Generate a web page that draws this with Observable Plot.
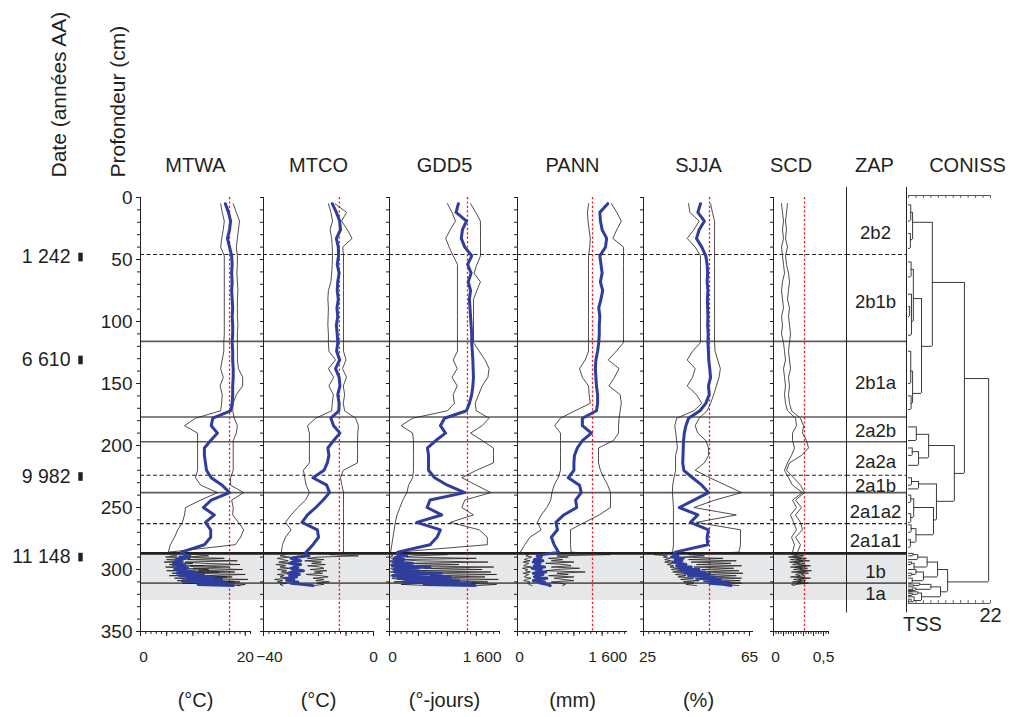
<!DOCTYPE html>
<html lang="fr"><head><meta charset="utf-8">
<script src="https://cdn.jsdelivr.net/npm/d3@7"></script>
<script src="https://cdn.jsdelivr.net/npm/@observablehq/plot@0.6"></script>
<style>
html,body{margin:0;padding:0;background:#fff;}
#chart{position:relative;width:1015px;height:717px;overflow:hidden;font-family:"Liberation Sans",Arial,sans-serif;}
#chart svg{position:absolute;top:0;}
</style></head><body><div id="chart"></div>
<script>
// ---------- DATA ----------
const depthTop = [5,12,19,26,33,40,47,54,61,68,75,82,89,96,103,110,117,124,131,138,145,152,159,166,172,178,184,190,196,202,208,214,220,226,232,238,244,250,256,262,268,274,280,286];
const depthDense = [288,289,290,291,292,293,294,295,296,297,298,299,300,301,302,303,304,305,306,307,308,309,310,311,312,313];

const mtwaMean = [16.2,16.8,17.2,17.0,16.6,17.0,17.4,17.5, 17.4,17.5,17.4,17.5,17.6,17.5,17.6,17.6, 17.5,17.6,17.6,17.7,17.7,17.6,17.6,17.5, 17.2,13.8,13.5,14.7,13.4,12.2,12.2,12.4, 12.6,13.5,15.6,17.0,13.5,12.0,14.1,12.4, 13.4,13.4,12.2,7.8,
  8.5,9.4,7.5,8.8,6.8,8.0,6.5,7.8, 6.2,8.5,7.0,9.0,6.5,8.0,10.5,7.0, 12.0,7.5,14.0,9.0,15.5,8.0,12.5,16.5, 11.0,17.7];
const mtwaLow = [15.3,15.6,16.0,15.8,15.5,15.3,16.0,16.0, 16.0,16.0,16.0,16.0,16.0,16.0,16.0,16.0, 15.9,15.9,15.6,15.3,15.8,15.2,15.6,15.5, 15.3,10.5,8.4,10.9,10.9,10.9,10.9,10.9, 10.9,10.5,11.5,14.7,11.5,8.6,8.4,8.0, 7.1,6.5,5.7,5.3,
  5.5,7.0,4.8,9.5,5.0,8.0,4.5,10.0, 5.5,12.0,4.8,8.5,13.0,5.0,15.0,6.0, 11.0,5.5,16.5,6.5,14.0,7.0,18.0,8.0, 15.0,19.0];
const mtwaHigh = [17.7,18.3,18.9,18.7,18.5,18.3,18.5,18.5, 18.4,18.5,18.6,18.5,18.5,18.5,18.6,18.5, 18.5,18.5,18.5,18.7,19.5,19.5,18.3,17.7, 17.6,17.9,18.5,18.3,17.7,17.7,17.7,17.7, 17.7,17.2,17.2,19.7,17.4,17.7,17.6,18.7, 19.7,19.1,18.1,5.5,
  10.5,13.0,8.0,16.0,9.0,18.5,8.5,12.0, 19.0,9.5,17.0,10.0,19.5,11.0,18.0,9.0, 20.0,12.0,17.5,10.5,20.5,13.0,19.0,11.5, 20.0,18.5];

const mtcoMean = [-15.0,-13.5,-12.3,-12.0,-13.5,-12.8,-12.7,-13.2, -12.5,-13.0,-13.2,-12.8,-13.3,-13.0,-13.5,-13.2, -13.0,-13.4,-12.3,-13.8,-12.5,-12.2,-13.0,-12.5, -12.6,-15.5,-14.5,-12.2,-14.5,-16.6,-16.2,-16.8, -18.0,-22.0,-17.0,-16.0,-18.3,-21.0,-24.0,-26.0, -20.4,-20.0,-22.0,-24.5,
  -24.7,-23.5,-27.5,-30.0,-28.0,-26.5,-29.5,-30.5, -26.5,-29.0,-27.5,-30.0,-28.5,-25.5,-29.5,-31.0, -27.0,-30.5,-28.0,-32.0,-29.0,-31.5,-27.5,-30.0, -26.0,-22.0];
const mtcoLow = [-16.4,-15.5,-14.9,-15.8,-15.2,-15.0,-14.9,-15.0, -15.2,-15.5,-16.4,-16.6,-16.4,-16.5,-16.6,-16.4, -16.4,-16.2,-13.8,-16.4,-14.5,-16.2,-14.6,-15.0, -15.2,-21.0,-24.0,-23.3,-23.3,-23.3,-23.3,-23.3, -25.5,-25.0,-24.5,-23.3,-24.7,-27.5,-30.0,-32.0, -30.0,-32.0,-33.1,-33.5,
  -32.0,-34.0,-30.5,-35.0,-33.0,-31.0,-34.5,-30.0, -35.5,-32.0,-34.0,-30.5,-35.0,-31.5,-33.5,-29.5, -35.0,-32.5,-34.0,-31.0,-36.0,-33.0,-35.0,-31.5, -34.0,-33.0];
const mtcoHigh = [-14.0,-9.8,-11.6,-9.5,-7.8,-11.2,-10.9,-10.9, -10.9,-10.9,-10.9,-10.9,-10.9,-10.9,-10.9,-10.9, -10.9,-10.9,-10.0,-11.3,-9.8,-11.0,-10.5,-11.0, -10.5,-6.5,-5.5,-5.7,-5.8,-5.8,-5.8,-5.8, -11.0,-12.0,-11.5,-10.9,-10.9,-10.9,-10.9,-10.9, -10.9,-10.9,-10.9,-10.9,
  -16.0,-5.5,-20.0,-24.0,-18.0,-25.0,-19.0,-22.5, -17.5,-24.0,-19.5,-18.0,-23.0,-17.0,-21.5,-18.5, -24.5,-19.0,-16.5,-22.0,-18.0,-21.0,-16.0,-20.5, -18.0,-22.0];

const gdd5Mean = [1190,1150,1330,1260,1240,1300,1420,1350, 1410,1360,1400,1380,1390,1400,1410,1420, 1420,1430,1440,1445,1450,1440,1420,1380, 1330,950,880,967,800,656,674,674, 674,780,1000,1300,700,650,900,470, 880,820,700,140,
  150,300,120,80,250,100,60,400, 120,50,700,150,80,500,90,900, 200,60,1050,150,400,1200,250,1400, 600,1480];
const gdd5Low = [1000,1080,1140,1050,970,1030,1100,1174, 1174,1174,1174,1174,1174,1174,1174,1174, 1174,1174,1100,1170,1080,1170,1100,1120, 1000,400,200,400,414,414,414,414, 414,400,330,300,230,180,130,100, 80,60,40,20,
  20,60,10,30,80,10,20,150, 10,30,200,20,40,250,15,300, 60,20,400,40,150,500,80,600, 200,700];
const gdd5High = [1400,1490,1570,1572,1572,1572,1572,1510, 1460,1570,1510,1451,1451,1451,1451,1451, 1451,1550,1650,1720,1700,1600,1540,1480, 1500,1720,1600,1400,1600,1796,1796,1796, 1500,1250,1500,1750,1300,1250,1450,1050, 1550,1690,1690,150,
  1000,400,300,1500,200,500,1700,300, 1200,150,1800,600,1600,350,1750,400, 1850,700,1650,500,1880,900,1700,1200, 1850,1500];

const pannMean = [1600,1460,1470,1500,1580,1560,1460,1480, 1500,1470,1510,1480,1440,1460,1450,1450, 1440,1420,1390,1380,1390,1400,1420,1420, 1400,1150,1150,1310,1150,1060,1010,1000, 1000,900,1100,1130,1030,1050,820,680, 709,600,650,727,
  450,350,420,380,300,450,280,400, 350,300,480,260,420,330,500,280, 450,350,300,520,350,280,480,400, 520,580];
const pannLow = [1260,1240,1250,1270,1290,1280,1260,1259, 1259,1259,1259,1259,1259,1259,1259,1259, 1259,1259,1200,1100,1150,1259,1270,1290, 1020,760,660,762,762,762,762,762, 762,720,650,610,590,520,420,350, 420,220,130,50,
  200,150,250,180,120,220,100,200, 150,110,250,90,180,140,230,100, 200,150,120,240,160,110,220,180, 200,260];
const pannHigh = [1667,1760,1840,1760,1690,1879,1879,1879, 1879,1879,1879,1879,1879,1879,1879,1879, 1879,1750,1610,1800,1720,1620,1820,1840, 1820,1800,1791,1791,1700,1436,1436,1436, 1470,1530,1600,1649,1649,1649,1450,1188, 940,940,940,950,
  1650,700,900,550,800,600,1000,500, 850,950,600,1100,700,500,1200,700, 900,550,1000,650,800,1000,600,750, 850,800];

const sjjaMean = [46.5,45.5,48.0,46.0,45.0,47.0,48.5,49.0, 49.2,49.0,49.3,49.1,49.2,49.3,49.2,49.4, 49.3,49.5,49.6,50.0,50.3,49.5,49.8,48.5, 46.3,42.0,41.0,40.4,40.1,40.0,39.9,39.8, 40.2,43.5,47.0,49.5,44.0,38.5,45.5,42.7, 49.5,49.0,49.2,37.0,
  36.5,38.0,35.5,40.0,37.0,39.5,36.0,38.5, 41.0,37.5,43.0,38.0,46.0,39.0,48.0,40.5, 50.0,42.0,52.0,45.0,54.0,48.0,57.0,50.0, 55.0,58.0];
const sjjaLow = [42.0,42.5,46.0,44.0,41.5,44.5,46.5,46.5, 46.5,46.5,46.5,46.5,46.5,46.5,46.5,46.5, 46.5,43.5,41.5,44.5,43.5,41.5,45.0,47.0, 44.0,37.5,36.8,37.2,37.5,37.8,37.1,37.1, 37.1,36.5,36.0,35.9,36.1,36.3,36.3,36.3, 36.3,36.3,36.3,36.0,
  29.0,34.0,32.5,35.0,33.0,35.5,33.0,36.0, 34.0,36.5,35.0,38.0,35.5,40.0,36.0,42.0, 37.0,41.0,38.0,44.0,39.0,46.0,40.0,44.0, 41.0,45.0];
const sjjaHigh = [50.3,51.0,51.8,51.8,51.8,51.8,51.8,51.8, 51.8,51.8,51.8,51.8,51.8,51.8,51.8,51.8, 51.8,52.0,53.0,54.0,53.5,52.5,51.5,50.3, 49.0,46.0,44.5,45.5,48.5,49.5,49.5,48.0, 44.5,50.0,56.0,62.0,52.0,44.0,60.0,45.0, 61.6,61.6,61.6,61.0,
  42.0,48.0,40.0,55.0,42.0,60.0,43.0,58.0, 45.0,62.0,44.0,59.0,47.0,61.0,46.0,62.5, 48.0,60.0,50.0,62.0,49.0,61.5,52.0,62.0, 55.0,61.0];

const scdLow = [0.08,0.09,0.10,0.09,0.10,0.08,0.09,0.10, 0.11,0.09,0.08,0.09,0.10,0.08,0.09,0.08, 0.10,0.11,0.12,0.10,0.11,0.12,0.11,0.12, 0.14,0.22,0.23,0.19,0.19,0.21,0.18,0.14, 0.11,0.15,0.19,0.29,0.19,0.23,0.17,0.20, 0.23,0.18,0.21,0.19,
  0.18,0.24,0.15,0.28,0.17,0.30,0.16,0.26, 0.19,0.33,0.17,0.29,0.20,0.34,0.18,0.30, 0.22,0.27,0.17,0.32,0.20,0.28,0.19,0.31, 0.18,0.20];
const scdHigh = [0.14,0.13,0.12,0.13,0.12,0.14,0.12,0.13, 0.15,0.16,0.15,0.14,0.16,0.15,0.16,0.17, 0.16,0.15,0.16,0.17,0.15,0.16,0.15,0.16, 0.18,0.27,0.30,0.29,0.33,0.35,0.28,0.16, 0.13,0.20,0.27,0.31,0.22,0.28,0.22,0.27, 0.29,0.22,0.27,0.24,
  0.22,0.30,0.20,0.33,0.23,0.36,0.21,0.31, 0.25,0.37,0.22,0.34,0.26,0.38,0.24,0.35, 0.28,0.31,0.23,0.37,0.25,0.32,0.24,0.35, 0.22,0.21];

// modern (present-day) reference values
const modernValues = {MTWA: 17.0, MTCO: -12.4, GDD5: 1347, PANN: 1330, SJJA: 49.9, SCD: 0.31};

// zone boundaries (cm) and rank
const zoneDepths = [46, 116, 177, 197, 224, 238, 263, 287, 311];
const zoneRanks  = ["sub","main","main","main","sub","main","sub","major","main"];
const zoneNames  = ["2b2","2b1b","2b1a","2a2b","2a2a","2a1b","2a1a2","2a1a1","1b","1a"];
const zoneLabelDepths = [29, 84, 150, 188, 213, 233, 254, 277, 302, 320];
const lateGlacialBand = [287, 325];

// dates
const dateLabels = ["1 242", "6 610", "9 982", "11 148"];
const dateDepths = [48, 131, 225, 290];

// depth axis
const depthTicks = [0, 50, 100, 150, 200, 250, 300, 350];

// x tick labels
const mtwaTickValues = [0, 20],     mtwaTickText = ["0", "20"];
const mtcoTickValues = [-40, 0],    mtcoTickText = ["\u221240", "0"];
const gdd5TickValues = [0, 1600],   gdd5TickText = ["0", "1 600"];
const pannTickValues = [0, 1600],   pannTickText = ["0", "1 600"];
const sjjaTickValues = [25, 65],    sjjaTickText = ["25", "65"];
const scdTickValues  = [0, 0.5],    scdTickText  = ["0", "0,5"];

// CONISS dendrogram nodes: h = total sum of squares at the join, top/bottom = depths of the two joined branches,
// ht/hb = heights of the joined child clusters
const conissNodes = [
  {h:21.5, top:146, bottom:310, ht:15.0, hb:10.5},
  {h:15.0, top:68.5, bottom:222.5, ht:6.4, hb:12.3},
  {h:6.4, top:20, bottom:120, ht:1.1, hb:3.5},
  {h:1.1, top:12, bottom:34, ht:0.6, hb:0.5},
  {h:0.6, top:6, bottom:19, ht:0, hb:0},
  {h:0.5, top:29, bottom:41, ht:0, hb:0},
  {h:3.5, top:81.5, bottom:158, ht:1.3, hb:1.1},
  {h:1.3, top:58, bottom:100, ht:0.7, hb:0.8},
  {h:0.7, top:52, bottom:64, ht:0, hb:0},
  {h:0.8, top:78, bottom:111, ht:0, hb:0},
  {h:0.3, top:88, bottom:96, ht:0, hb:0},
  {h:1.1, top:140, bottom:166, ht:0.6, hb:0.7},
  {h:0.6, top:124, bottom:150, ht:0, hb:0},
  {h:0.7, top:160, bottom:171, ht:0, hb:0},
  {h:12.3, top:200, bottom:245, ht:5.4, hb:7.5},
  {h:5.4, top:191, bottom:210, ht:2.1, hb:2.7},
  {h:2.1, top:185, bottom:196, ht:0, hb:0},
  {h:2.7, top:205, bottom:216, ht:1.0, hb:0},
  {h:1.0, top:202, bottom:208, ht:0, hb:0},
  {h:7.5, top:231, bottom:260, ht:2.7, hb:6.7},
  {h:2.7, top:229, bottom:235, ht:0.8, hb:0},
  {h:0.8, top:226, bottom:232, ht:0, hb:0},
  {h:6.7, top:250, bottom:272, ht:1.4, hb:2.0},
  {h:1.4, top:243, bottom:258, ht:0.6, hb:0.6},
  {h:0.6, top:240, bottom:246, ht:0, hb:0},
  {h:0.6, top:255, bottom:262, ht:0, hb:0},
  {h:2.0, top:267, bottom:278, ht:0.7, hb:0.5},
  {h:0.7, top:264, bottom:270, ht:0, hb:0},
  {h:0.5, top:276, bottom:282, ht:0, hb:0},
  {h:10.5, top:300, bottom:318, ht:7.8, hb:8.6},
  {h:7.8, top:294, bottom:306, ht:5.0, hb:4.0},
  {h:5.0, top:290, bottom:298, ht:2.5, hb:1.5},
  {h:4.0, top:302, bottom:309, ht:2.0, hb:1.0},
  {h:2.5, top:288, bottom:292, ht:1.2, hb:0},
  {h:1.2, top:287, bottom:289, ht:0, hb:0},
  {h:1.5, top:295, bottom:300, ht:0.8, hb:0},
  {h:0.8, top:294, bottom:296, ht:0, hb:0},
  {h:2.0, top:300, bottom:304, ht:0, hb:0.9},
  {h:0.9, top:303, bottom:305, ht:0, hb:0},
  {h:1.0, top:307, bottom:311, ht:0, hb:0},
  {h:8.6, top:314, bottom:322, ht:6.0, hb:3.5},
  {h:6.0, top:312, bottom:316, ht:3.0, hb:2.0},
  {h:3.5, top:319, bottom:325, ht:2.5, hb:1.5},
  {h:3.0, top:311, bottom:313, ht:0, hb:1.4},
  {h:1.4, top:312.5, bottom:314, ht:0, hb:0},
  {h:2.0, top:315, bottom:317, ht:1.1, hb:0},
  {h:1.1, top:316, bottom:318, ht:0, hb:0},
  {h:2.5, top:318, bottom:320, ht:0, hb:1.0},
  {h:1.0, top:319.5, bottom:321, ht:0, hb:0},
  {h:1.5, top:322, bottom:326, ht:0, hb:0.7},
  {h:0.7, top:324, bottom:326, ht:0, hb:0}
];
const tssTicks = [0,2,4,6,8,10,12,14,16,18,20,22];

// ---------- BUILD ----------
const INK = "#231f20";
const FONT = "Liberation Sans, Arial, Helvetica, sans-serif";
const depth = depthTop.concat(depthDense);
const N = depth.length;
[["mtwaMean",mtwaMean],["mtwaLow",mtwaLow],["mtwaHigh",mtwaHigh],["mtcoMean",mtcoMean],["mtcoLow",mtcoLow],["mtcoHigh",mtcoHigh],
 ["gdd5Mean",gdd5Mean],["gdd5Low",gdd5Low],["gdd5High",gdd5High],["pannMean",pannMean],["pannLow",pannLow],["pannHigh",pannHigh],
 ["sjjaMean",sjjaMean],["sjjaLow",sjjaLow],["sjjaHigh",sjjaHigh],["scdLow",scdLow],["scdHigh",scdHigh]].forEach(([n,a]) => {
  if (a.length !== N) throw new Error(n + " has " + a.length + " values, expected " + N);
});

const zones = zoneDepths.map((d, i) => ({depth: d, rank: zoneRanks[i]}));
const band = [{top: lateGlacialBand[0], bottom: lateGlacialBand[1]}];
const dates = dateLabels.map((t, i) => ({label: t, depth: dateDepths[i]}));
const zapRows = zoneNames.map((t, i) => ({label: t, depth: zoneLabelDepths[i]}));

const H = 717, MT = 197, MB = 86;
const yScale = {domain: [0, 350], reverse: true};
const depthMinor = d3.range(0, 351, 10);
const baseStyle = {background: "transparent", overflow: "visible", fontFamily: FONT, fontSize: "15px", color: INK};

const container = document.getElementById("chart");
function place(svg, left) { svg.style.left = left + "px"; svg.style.top = "0px"; container.appendChild(svg); }

function zoneMarks() {
  return [
    Plot.rect(band, {y1: "top", y2: "bottom", fill: "#e6e7e8"}),
    Plot.ruleY(zones.filter(z => z.rank === "main"), {y: "depth", stroke: "#5c5c5c", strokeWidth: 1.6}),
    Plot.ruleY(zones.filter(z => z.rank === "sub"), {y: "depth", stroke: INK, strokeWidth: 1.1, strokeDasharray: "4,2.5"}),
    Plot.ruleY(zones.filter(z => z.rank === "major"), {y: "depth", stroke: INK, strokeWidth: 2.8})
  ];
}

const barSymbol = {draw(ctx) { ctx.moveTo(-2.2, -4.3); ctx.lineTo(2.2, -4.3); ctx.lineTo(2.2, 4.3); ctx.lineTo(-2.2, 4.3); ctx.closePath(); }};

const panels = [
  {key: "MTWA", unit: "(°C)", axis: 140, ml: 140, span: 123, pw: 110, domain: [0, 21], lo: mtwaLow, mean: mtwaMean, hi: mtwaHigh,
   minor: d3.range(0, 21.001, 1), major: [0, 5, 10, 15, 20], tv: mtwaTickValues, tt: mtwaTickText, firstDx: 3, titleDx: 0},
  {key: "MTCO", unit: "(°C)", axis: 263, ml: 12, span: 126, pw: 110, domain: [-40, 0], lo: mtcoLow, mean: mtcoMean, hi: mtcoHigh,
   minor: d3.range(-40, 0.001, 2), major: [-40, -30, -20, -10, 0], tv: mtcoTickValues, tt: mtcoTickText, firstDx: 6, titleDx: 0},
  {key: "GDD5", unit: "(°-jours)", axis: 389, ml: 12, span: 128, pw: 110, domain: [0, 1900], lo: gdd5Low, mean: gdd5Mean, hi: gdd5High,
   minor: d3.range(0, 1900.1, 100), major: [0, 500, 1000, 1500], tv: gdd5TickValues, tt: gdd5TickText, firstDx: 3, titleDx: 0},
  {key: "PANN", unit: "(mm)", axis: 517, ml: 12, span: 126, pw: 110, domain: [0, 1950], lo: pannLow, mean: pannMean, hi: pannHigh,
   minor: d3.range(0, 1950.1, 100), major: [0, 500, 1000, 1500], tv: pannTickValues, tt: pannTickText, firstDx: 2, titleDx: 0},
  {key: "SJJA", unit: "(%)", axis: 643, ml: 12, span: 130, pw: 110, domain: [25, 66.5], lo: sjjaLow, mean: sjjaMean, hi: sjjaHigh,
   minor: d3.range(25, 66.5, 2), major: [25, 35, 45, 55, 65], tv: sjjaTickValues, tt: sjjaTickText, firstDx: 4, titleDx: 0},
  {key: "SCD", unit: null, axis: 773, ml: 12, span: 73, pw: 55, domain: [0, 0.55], lo: scdLow, mean: null, hi: scdHigh,
   minor: d3.range(0, 0.5501, 0.025), major: [0, 0.1, 0.2, 0.3, 0.4, 0.5], tv: scdTickValues, tt: scdTickText, firstDx: 2, titleDx: -10}
];

panels.forEach((p, idx) => {
  const rows = depth.map((d, i) => ({depth: d, lo: p.lo[i], mean: p.mean ? p.mean[i] : null, hi: p.hi[i]}));
  const center = (p.domain[0] + p.domain[1]) / 2;
  const ticks = p.tv.map((v, i) => ({v, t: p.tt[i]}));
  const marks = [
    ...zoneMarks(),
    Plot.ruleX([modernValues[p.key]], {stroke: "#ed1c24", strokeWidth: 1.3, strokeDasharray: "2.2,2.2"}),
    Plot.line(rows, {x: "lo", y: "depth", stroke: INK, strokeWidth: 0.8}),
    Plot.line(rows, {x: "hi", y: "depth", stroke: INK, strokeWidth: 0.8}),
    p.mean ? Plot.line(rows, {x: "mean", y: "depth", stroke: "#2f3d9c", strokeWidth: 3, strokeLinejoin: "round"}) : null,
    Plot.ruleX([p.domain[0]], {stroke: INK, strokeWidth: 1}),
    Plot.ruleY([350], {x1: p.domain[0], x2: p.domain[1], stroke: INK, strokeWidth: 1}),
    Plot.axisY({anchor: "left", ticks: depthMinor, tickSize: 3, tickFormat: () => "", label: null, stroke: INK}),
    Plot.axisX({anchor: "bottom", ticks: p.minor, tickSize: 3, tickFormat: () => "", label: null, stroke: INK}),
    Plot.axisX({anchor: "bottom", ticks: p.major, tickSize: 5, tickFormat: () => "", label: null, stroke: INK}),
    Plot.text(ticks.slice(0, 1), {x: "v", text: "t", frameAnchor: "bottom", dy: 26, dx: p.firstDx, lineAnchor: "middle", textAnchor: "middle", fontSize: 15.5, fill: INK}),
    Plot.text(ticks.slice(1), {x: "v", text: "t", frameAnchor: "bottom", dy: 26, lineAnchor: "middle", textAnchor: "middle", fontSize: 15.5, fill: INK}),
    Plot.text([p.key], {x: () => center, text: d => d, frameAnchor: "top", dy: -32, dx: p.titleDx, lineAnchor: "middle", textAnchor: "middle", fontSize: 20, fill: INK}),
    p.unit ? Plot.text([p.unit], {x: () => center, text: d => d, frameAnchor: "bottom", dy: 69, lineAnchor: "middle", textAnchor: "middle", fontSize: 20, fill: INK}) : null
  ];
  if (idx === 0) {
    marks.push(
      Plot.axisY({anchor: "left", ticks: depthTicks, tickSize: 4, tickPadding: 4, fontSize: 19, label: null, stroke: INK, fill: INK}),
      Plot.text(dates, {y: "depth", text: "label", frameAnchor: "left", dx: -70, textAnchor: "end", lineAnchor: "middle", fontSize: 19.5, fill: INK}),
      Plot.dot(dates, {y: "depth", frameAnchor: "left", dx: -60, symbol: barSymbol, r: 3, fill: INK, stroke: "none"}),
      Plot.text(["Date (années AA)"], {text: d => d, frameAnchor: "top-left", dx: -81, dy: -20, rotate: -90, textAnchor: "start", lineAnchor: "middle", fontSize: 21, fill: INK}),
      Plot.text(["Profondeur (cm)"], {text: d => d, frameAnchor: "top-left", dx: -22, dy: -20, rotate: -90, textAnchor: "start", lineAnchor: "middle", fontSize: 21, fill: INK})
    );
  }
  const svg = Plot.plot({
    width: p.ml + p.span, height: H, marginTop: MT, marginBottom: MB, marginLeft: p.ml, marginRight: 0,
    x: {domain: p.domain, range: [p.ml, p.ml + p.pw]},
    y: yScale,
    style: baseStyle,
    marks: marks.filter(Boolean)
  });
  place(svg, p.axis - p.ml);
});

// ZAP column
{
  const ml = 0, span = 60;
  const svg = Plot.plot({
    width: span, height: H, marginTop: MT, marginBottom: MB, marginLeft: ml, marginRight: 0,
    x: {domain: [0, 1], range: [ml, ml + span], axis: null},
    y: {...yScale, axis: null},
    style: baseStyle,
    marks: [
      ...zoneMarks(),
      Plot.ruleX([0], {y1: -8, y2: 335, stroke: INK, strokeWidth: 1}),
      Plot.text(zapRows, {y: "depth", text: "label", frameAnchor: "middle", dx: -1, lineAnchor: "middle", textAnchor: "middle", fontSize: 18.5, fill: INK}),
      Plot.text(["ZAP"], {text: d => d, frameAnchor: "top-left", dx: 28, dy: -32, lineAnchor: "middle", textAnchor: "middle", fontSize: 20, fill: INK})
    ]
  });
  place(svg, 846 - ml);
}

// CONISS dendrogram
{
  const ml = 0, span = 109;
  const svg = Plot.plot({
    width: span, height: H, marginTop: MT, marginBottom: MB, marginLeft: ml, marginRight: 0,
    x: {domain: [0, 22], range: [ml + 2, ml + 84], axis: null},
    y: {...yScale, axis: null},
    style: baseStyle,
    marks: [
      Plot.ruleX([0], {y1: -8, y2: 335, dx: -2, stroke: INK, strokeWidth: 1}),
      Plot.ruleY([-1.6], {x1: 0, x2: 22, stroke: "#555", strokeWidth: 1}),
      Plot.ruleX(tssTicks, {x: d => d, y1: -1.6, y2: 0.8, stroke: "#555", strokeWidth: 0.9}),
      Plot.ruleY([327.4], {x1: 0, x2: 22, stroke: "#555", strokeWidth: 1}),
      Plot.ruleX(tssTicks, {x: d => d, y1: 325, y2: 327.4, stroke: "#555", strokeWidth: 0.9}),
      Plot.ruleX(conissNodes, {x: "h", y1: "top", y2: "bottom", stroke: "#3a3a3a", strokeWidth: 1}),
      Plot.ruleY(conissNodes, {y: "top", x1: "ht", x2: "h", stroke: "#3a3a3a", strokeWidth: 1}),
      Plot.ruleY(conissNodes, {y: "bottom", x1: "hb", x2: "h", stroke: "#3a3a3a", strokeWidth: 1}),
      Plot.text(["CONISS"], {text: d => d, frameAnchor: "top-left", dx: 61, dy: -32, lineAnchor: "middle", textAnchor: "middle", fontSize: 20, fill: INK}),
      Plot.text(["TSS"], {text: d => d, frameAnchor: "bottom-left", dx: 16, dy: -7, lineAnchor: "middle", textAnchor: "middle", fontSize: 20, fill: INK}),
      Plot.text(["22"], {x: () => 22, text: d => d, frameAnchor: "bottom", dy: -16, lineAnchor: "middle", textAnchor: "middle", fontSize: 20, fill: INK})
    ]
  });
  place(svg, 906 - ml);
}
</script></body></html>
